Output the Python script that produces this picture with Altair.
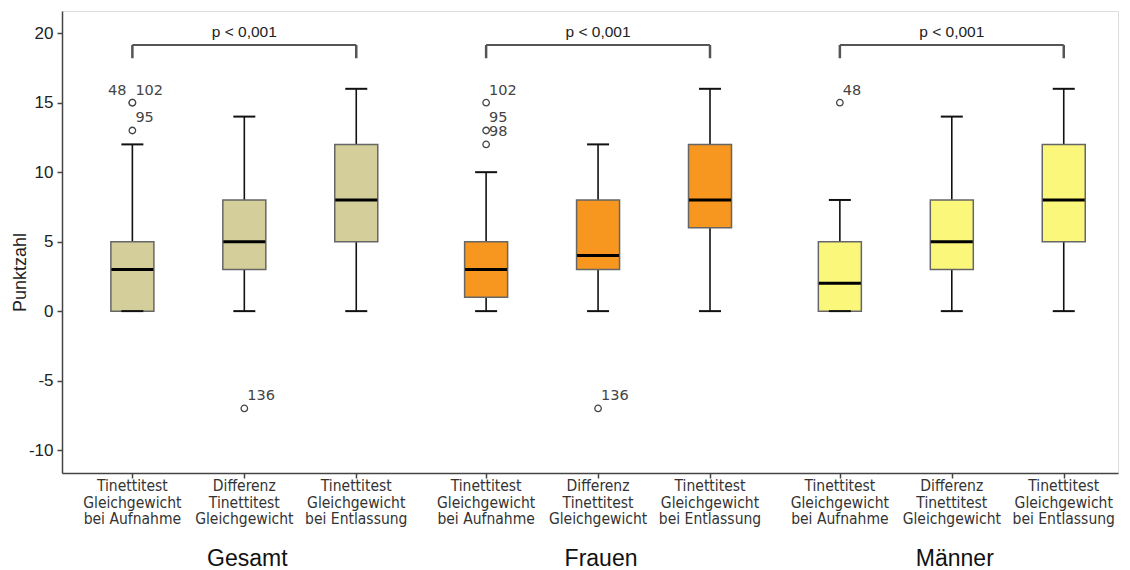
import altair as alt
import pandas as pd

# ---- data ----
groups = ["Gesamt", "Frauen", "Männer"]
measures = [
    "Tinettitest\nGleichgewicht\nbei Aufnahme",
    "Differenz\nTinettitest\nGleichgewicht",
    "Tinettitest\nGleichgewicht\nbei Entlassung",
]
whisker_low = [0, 0, 0, 0, 0, 0, 0, 0, 0]
q1 = [0, 3, 5, 1, 3, 6, 0, 3, 5]
median = [3, 5, 8, 3, 4, 8, 2, 5, 8]
q3 = [5, 8, 12, 5, 8, 12, 5, 8, 12]
whisker_high = [12, 14, 16, 10, 12, 16, 8, 14, 16]

outlier_box = [0, 0, 0, 1, 3, 3, 3, 4, 6]
outlier_value = [15, 15, 13, -7, 15, 13, 12, -7, 15]
outlier_label = ["48", "102", "95", "136", "102", "95", "98", "136", "48"]

p_text = ["p < 0,001", "p < 0,001", "p < 0,001"]
colors = ["#D4CF9A", "#F7971F", "#FBF77B"]

# ---- layout helpers ----
W, H = 1056, 462
GROUP_STEP = 3.16
def pos(i):
    return (i // 3) * GROUP_STEP + (i % 3)

boxes = pd.DataFrame({
    "pos": [pos(i) for i in range(9)],
    "group": [groups[i // 3] for i in range(9)],
    "measure": [measures[i % 3] for i in range(9)],
    "low": whisker_low, "q1": q1, "med": median, "q3": q3, "high": whisker_high,
})
out = pd.DataFrame({
    "pos": [pos(b) for b in outlier_box],
    "value": outlier_value,
    "label": outlier_label,
})
out["dup"] = out.groupby(["pos", "value"]).cumcount()
out["n"] = out.groupby(["pos", "value"])["value"].transform("size")
is_left = (out["n"] > 1) & (out["dup"] == 0)
out_left = out[is_left]
out_right = out[~is_left]

BR_Y, BR_LEG, BR_TXT = 19.15, 18.2, 20.1
br = pd.DataFrame({
    "x1": [g * GROUP_STEP for g in range(3)],
    "x2": [g * GROUP_STEP + 2 for g in range(3)],
    "mid": [g * GROUP_STEP + 1 for g in range(3)],
    "text": p_text,
    "group": groups,
})
legs = pd.DataFrame({
    "x": [g * GROUP_STEP + k for g in range(3) for k in (0, 2)],
})

xscale = alt.Scale(domain=[-0.584, 8.76], nice=False, zero=False)
yscale = alt.Scale(domain=[-11.65, 21.6], nice=False, zero=False)

X = alt.X("pos:Q", scale=xscale,
          axis=alt.Axis(values=[pos(i) for i in range(9)], labels=False, title=None,
                        tickSize=5, tickColor="#444", domainColor="#444", domainWidth=1.5,
                        tickWidth=1.5, grid=False))
Y_AX = alt.Axis(values=[-10, -5, 0, 5, 10, 15, 20], title="Punktzahl", grid=False,
                labelExpr="toString(datum.value)",
                labelFont="Liberation Sans", labelFontSize=17, labelColor="#222",
                titleFont="Liberation Sans", titleFontSize=18, titleFontWeight="normal",
                titleColor="#222", tickSize=5, tickColor="#444", domainColor="#444",
                tickWidth=1.5, domainWidth=1.5, labelPadding=4,
                titleAngle=-90, titleX=-37, titleY=261, titleBaseline="alphabetic",
                titleAlign="center")

base = alt.Chart(boxes)

whisk_lo = base.mark_rule(color="#111", strokeWidth=1.6).encode(
    x=X, y=alt.Y("low:Q", scale=yscale, axis=Y_AX), y2="q1:Q")
whisk_hi = base.mark_rule(color="#111", strokeWidth=1.6).encode(
    x="pos:Q", y="q3:Q", y2="high:Q")
box = base.mark_bar(size=43, orient="vertical", stroke="#666", strokeWidth=1.5,
                    opacity=1).encode(
    x="pos:Q", y="q1:Q", y2="q3:Q",
    fill=alt.Color("group:N", scale=alt.Scale(domain=groups, range=colors), legend=None))
cap_lo = base.mark_tick(orient="horizontal", size=22, thickness=2, color="#111",
                        opacity=1).encode(x="pos:Q", y="low:Q")
cap_hi = base.mark_tick(orient="horizontal", size=22, thickness=2, color="#111",
                        opacity=1).encode(x="pos:Q", y="high:Q")
med = base.mark_tick(orient="horizontal", size=42, thickness=3, color="#000",
                     opacity=1).encode(x="pos:Q", y="med:Q")

ocirc = alt.Chart(out).mark_point(shape="circle", size=42, filled=False, color="#444",
                                  strokeWidth=1.3, fill="white", fillOpacity=1,
                                  opacity=1).encode(
    x="pos:Q", y="value:Q")
otxt_r = alt.Chart(out_right).mark_text(align="left", baseline="middle", dx=3, dy=-12,
                                        font="DejaVu Sans", fontSize=14.5, color="#444").encode(
    x="pos:Q", y="value:Q", text="label:N")
otxt_l = alt.Chart(out_left).mark_text(align="right", baseline="middle", dx=-6, dy=-12,
                                       font="DejaVu Sans", fontSize=14.5, color="#444").encode(
    x="pos:Q", y="value:Q", text="label:N")

xlab = base.mark_text(lineBreak="\n", baseline="top", align="center",
                      font="DejaVu Sans Condensed, DejaVu Sans",
                      fontSize=15.5, lineHeight=16.5, color="#333").encode(
    x="pos:Q", y=alt.value(H + 6), text="measure:N")

gdf = pd.DataFrame({"mid": [g * GROUP_STEP + 1 for g in range(3)], "group": groups})
gtitle = alt.Chart(gdf).mark_text(baseline="alphabetic", align="center", dx=3,
                                  font="Liberation Sans", fontSize=23, color="#111").encode(
    x="mid:Q", y=alt.value(H + 93), text="group:N")

br_h = alt.Chart(br).mark_rule(color="#555", strokeWidth=2).encode(
    x="x1:Q", x2="x2:Q", y=alt.datum(BR_Y))
br_v = alt.Chart(legs).mark_rule(color="#555", strokeWidth=2.5).encode(
    x="x:Q", y=alt.datum(BR_Y), y2=alt.datum(BR_LEG))
br_t = alt.Chart(br).mark_text(baseline="middle", align="center", font="Liberation Sans",
                               fontSize=15.5, color="#222").encode(
    x="mid:Q", y=alt.datum(BR_TXT), text="text:N")

chart = alt.layer(
    whisk_lo, whisk_hi, box, cap_lo, cap_hi, med, ocirc, otxt_r, otxt_l,
    xlab, gtitle, br_h, br_v, br_t
).properties(
    width=W, height=H,
    autosize=alt.AutoSizeParams(type="none"),
    padding={"left": 62, "top": 11, "right": 12, "bottom": 97},
).configure_view(
    stroke="#555", strokeWidth=1.5
).configure(background="white")

chart.save("out.html", embed_options={"renderer": "svg", "actions": False})
